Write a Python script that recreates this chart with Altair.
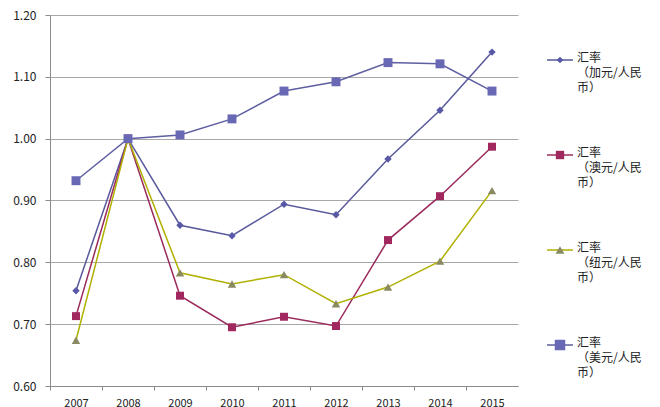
import altair as alt
import pandas as pd

years = ["2007", "2008", "2009", "2010", "2011", "2012", "2013", "2014", "2015"]
series_names = ["汇率（加元/人民币）", "汇率（澳元/人民币）", "汇率（纽元/人民币）", "汇率（美元/人民币）"]
cad = [0.754, 1.000, 0.860, 0.843, 0.894, 0.877, 0.967, 1.046, 1.140]
aud = [0.713, 1.000, 0.746, 0.695, 0.712, 0.697, 0.836, 0.907, 0.987]
nzd = [0.674, 1.000, 0.783, 0.765, 0.780, 0.733, 0.760, 0.802, 0.916]
usd = [0.932, 1.000, 1.006, 1.032, 1.077, 1.092, 1.123, 1.121, 1.077]
legend_labels = ["汇率\n（加元/人民\n币）", "汇率\n（澳元/人民\n币）", "汇率\n（纽元/人民\n币）", "汇率\n（美元/人民\n币）"]
y_ticks = [0.6, 0.7, 0.8, 0.9, 1.0, 1.1, 1.2]

line_colors = ["#58589C", "#9A2A5C", "#B0B000", "#5E5EA2"]
marker_colors = ["#5858A6", "#A0285E", "#8A8A62", "#6868B4"]
marker_shapes = ["diamond", "square", "triangle-up", "square"]
marker_sizes = [55, 80, 90, 190]
legend_marker_sizes = [45, 70, 80, 110]
legend_rows_px = [45, 140, 235, 330]

rows = []
for name, vals in zip(series_names, [cad, aud, nzd, usd]):
    for y, v in zip(years, vals):
        rows.append({"year": y, "value": v, "series": name})
df = pd.DataFrame(rows)

legend_df = pd.DataFrame({"series": series_names, "label": legend_labels})

FONT = "Noto Sans CJK SC"

color_line = alt.Color("series:N", sort=series_names,
                       scale=alt.Scale(domain=series_names, range=line_colors), legend=None)
fill_marker = alt.Fill("series:N", sort=series_names,
                       scale=alt.Scale(domain=series_names, range=marker_colors), legend=None)
shape_marker = alt.Shape("series:N", sort=series_names,
                         scale=alt.Scale(domain=series_names, range=marker_shapes), legend=None)

x_enc = alt.X("year:O", sort=years,
              scale=alt.Scale(type="point", padding=0.5),
              axis=alt.Axis(title=None, labelAngle=0, grid=False,
                            tickSize=4, tickOffset=-26, labelOffset=26, labelPadding=7,
                            labelFont=FONT, labelFontSize=11,
                            labelColor="#222222", domainColor="#8C8C8C", tickColor="#8C8C8C"))
y_enc = alt.Y("value:Q", scale=alt.Scale(domain=[0.6, 1.2], nice=False, zero=False),
              axis=alt.Axis(title=None, values=y_ticks, format=".2f", grid=True,
                            gridColor="#A8A8A8", tickSize=5, labelPadding=9,
                            labelFont=FONT, labelFontSize=12, labelColor="#222222",
                            domainColor="#8C8C8C", tickColor="#8C8C8C"))

base = alt.Chart(df)
lines = base.mark_line(strokeWidth=1.5).encode(x=x_enc, y=y_enc, color=color_line,
                                               detail="series:N")
points = base.mark_point(filled=True, opacity=1, strokeWidth=0).encode(
    x=x_enc, y=y_enc, shape=shape_marker, fill=fill_marker,
    size=alt.Size("series:N", sort=series_names,
                  scale=alt.Scale(domain=series_names, range=marker_sizes), legend=None),
    order=alt.Order("order_idx:Q")
).transform_calculate(order_idx="indexof(%s, datum.series)" % str(series_names))

layers = [lines, points]
for name, ypx, msize in zip(series_names, legend_rows_px, legend_marker_sizes):
    lb = alt.Chart(legend_df).transform_filter(alt.datum.series == name)
    layers.append(lb.mark_rule(strokeWidth=1.5).encode(
        x=alt.value(497), x2=alt.value(523), y=alt.value(ypx), color=color_line))
    layers.append(lb.mark_point(filled=True, opacity=1, strokeWidth=0, size=msize).encode(
        x=alt.value(510), y=alt.value(ypx), shape=shape_marker, fill=fill_marker))
    layers.append(lb.mark_text(align="left", baseline="top", dy=-7, lineBreak="\n",
                               lineHeight=15, font=FONT, fontSize=12, color="#222222").encode(
        x=alt.value(527), y=alt.value(ypx), text="label:N"))

chart = alt.layer(*layers).properties(
    width=468, height=371,
    background="white",
    autosize=alt.AutoSizeParams(type="none"),
    padding={"left": 42, "top": 7, "right": 134, "bottom": 30},
).configure_view(stroke="transparent", strokeWidth=0)

chart.save("out.html", embed_options={"renderer": "svg", "actions": False})
